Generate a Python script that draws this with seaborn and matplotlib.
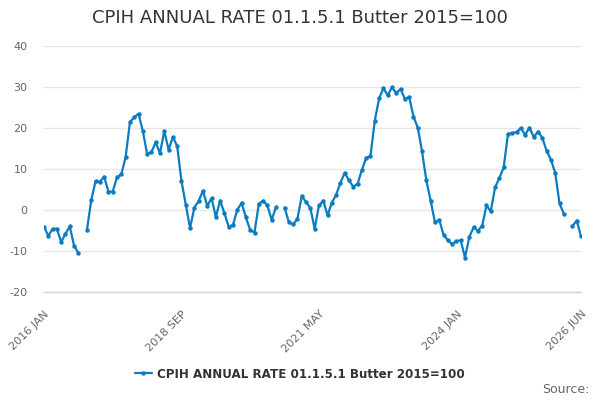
import numpy as np
import pandas as pd
import matplotlib
matplotlib.use("Agg")
import matplotlib.pyplot as plt
from matplotlib.lines import Line2D
import seaborn as sns

# monthly values, 2016 JAN .. 2026 JUN (None = missing month)
values = [
    -4.1, -6.3, -4.6, -4.6, -7.8, -5.8, -4.0, -8.7, -10.5, None,
    -4.9, 2.4, 7.0, 6.9, 8.1, 4.5, 4.5, 8.0, 8.7, 12.9,
    21.4, 22.6, 23.5, 19.3, 13.7, 14.1, 16.5, 13.8, 19.3, 14.7,
    17.8, 15.6, 7.1, 1.3, -4.4, 0.6, 2.2, 4.7, 1.0, 2.9,
    -1.7, 2.3, -0.8, -4.1, -3.6, 0.1, 1.7, -1.8, -4.9, -5.5,
    1.5, 2.3, 1.1, -2.4, 0.7, None, 0.6, -3.0, -3.5, -2.1,
    3.4, 1.9, 0.5, -4.6, 1.1, 2.3, -1.3, 1.8, 3.7, 6.6,
    9.1, 7.2, 5.7, 6.4, 9.8, 12.7, 13.2, 21.8, 27.2, 29.7,
    28.0, 29.9, 28.5, 29.5, 27.1, 27.6, 22.8, 20.1, 14.3, 7.2,
    2.3, -3.0, -2.4, -6.0, -7.4, -8.3, -7.6, -7.4, -11.6, -6.6,
    -4.2, -5.1, -3.8, 1.1, -0.3, 5.5, 7.8, 10.4, 18.5, 18.8,
    19.0, 20.0, 18.3, 20.1, 17.8, 19.1, 17.6, 14.4, 12.3, 9.0,
    1.6, -0.9, None, -3.9, -2.6, -6.4,
]
tick_months = [0, 8, 16, 24, 32, 40, 48, 56, 64, 72, 80, 88, 96, 104, 112, 120, 125]
label_months = {0: "2016 JAN", 32: "2018 SEP", 64: "2021 MAY", 96: "2024 JAN", 125: "2026 JUN"}
y_ticks = [-20, -10, 0, 10, 20, 30, 40]
series_name = "CPIH ANNUAL RATE 01.1.5.1 Butter 2015=100"
title = "CPIH ANNUAL RATE 01.1.5.1 Butter 2015=100"

line_color = "#0a7cc1"

df = pd.DataFrame({"month": np.arange(len(values)), "value": values})
df["value"] = df["value"].astype(float)
df["segment"] = df["value"].isna().cumsum()
df = df.dropna()

sns.set_style("white")
plt.rcParams["font.family"] = ["DejaVu Sans"]

fig = plt.figure(figsize=(6, 4), dpi=100)
ax = fig.add_axes([44 / 600, 108 / 400, 537 / 600, 246 / 400])

sns.lineplot(data=df, x="month", y="value", units="segment", estimator=None,
             color=line_color, linewidth=1.6, marker="o", markersize=3.2,
             markeredgewidth=0, ax=ax, legend=False)

ax.set_xlim(0, 125)
ax.set_ylim(-20, 40)
ax.set_yticks(y_ticks)
ax.set_yticklabels([str(v) for v in y_ticks], color="#666666", fontsize=8)
ax.grid(axis="y", color="#e6e6e6", linewidth=1)
ax.set_axisbelow(True)
ax.tick_params(axis="y", length=0, pad=12)

ax.set_xticks(tick_months)
ax.set_xticklabels([label_months.get(m, "") for m in tick_months],
                   rotation=45, ha="right", rotation_mode="anchor",
                   color="#666666", fontsize=8)
ax.tick_params(axis="x", length=8, width=1, color="#ccd6eb", pad=4)

for side in ["top", "right", "left"]:
    ax.spines[side].set_visible(False)
ax.spines["bottom"].set_color("#ccd6eb")
ax.spines["bottom"].set_linewidth(1)
ax.set_xlabel("")
ax.set_ylabel("")

fig.text(0.5, 0.955, title, ha="center", va="center", fontsize=13, color="#333333")

handle = Line2D([0], [0], color=line_color, linewidth=1.6, marker="o",
                markersize=3.2, markeredgewidth=0)
fig.legend([handle], [series_name], loc="center", bbox_to_anchor=(0.5, 0.065),
           frameon=False, prop={"weight": "bold", "size": 8.6}, handlelength=1.4,
           handletextpad=0.5, labelcolor="#333333")

fig.text(0.983, 0.027, "Source:", ha="right", va="center", fontsize=9, color="#666666")

fig.savefig("out.png", dpi=100)
